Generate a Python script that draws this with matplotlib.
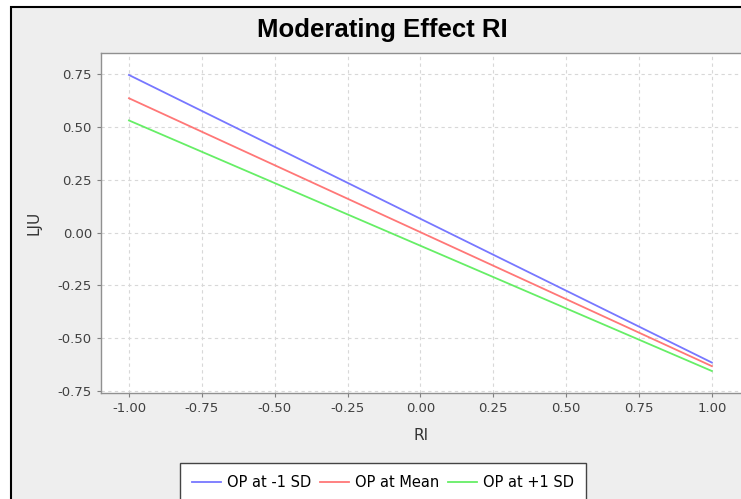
import matplotlib
matplotlib.use("Agg")
import matplotlib.pyplot as plt
from matplotlib.patches import Rectangle
import numpy as np

# -----------------------------------------
# Datos
# -----------------------------------------
ri = [-1.0, 1.0]
series = ["OP at -1 SD", "OP at Mean", "OP at +1 SD"]
lju_bajo = [0.745, -0.615]
lju_medio = [0.635, -0.632]
lju_alto = [0.530, -0.655]
colores = ["#7777ff", "#ff7777", "#66ee66"]

ticks_x = np.arange(-1.0, 1.01, 0.25)
ticks_y = np.arange(-0.75, 0.76, 0.25)

plt.rcParams["font.family"] = ["DejaVu Sans"]

W, H = 741, 499
fig = plt.figure(figsize=(W / 100, H / 100), dpi=100)
fig.patch.set_facecolor("white")

# fondo gris con borde negro
fondo = Rectangle((11 / W, -0.1), 1.2, (H - 7) / H + 0.1,
                  transform=fig.transFigure, facecolor="#eeeeee",
                  edgecolor="black", linewidth=1.5, zorder=-10)
fig.patches.append(fondo)

ax = fig.add_axes([101 / W, (H - 393) / H, (W - 101) / W, 340 / H])
ax.set_facecolor("white")

for y, nombre, c in zip([lju_bajo, lju_medio, lju_alto], series, colores):
    ax.plot(ri, y, color=c, linewidth=1.3, label=nombre)

ax.set_xlim(-1.096, 1.10)
ax.set_ylim(-0.759, 0.849)
ax.set_xticks(ticks_x)
ax.set_yticks(ticks_y)
ax.set_xticklabels([f"{t:.2f}" for t in ticks_x])
ax.set_yticklabels([f"{t:.2f}" for t in ticks_y])
ax.grid(True, color="#d8d8d8", linestyle=(0, (3, 3)), linewidth=0.8)
ax.tick_params(labelsize=9.5, length=3, color="#808080", labelcolor="#404040")
for s in ax.spines.values():
    s.set_color("#909090")
    s.set_linewidth(1.0)
ax.spines["right"].set_visible(False)

ax.set_xlabel("RI", fontsize=11, color="#333333", labelpad=9)
ax.set_ylabel("LJU", fontsize=11, color="#333333", labelpad=12)

fig.text(382 / W, 1 - 30 / H, "Moderating Effect RI", ha="center", va="center",
         fontsize=18.5, fontweight="bold", family="Liberation Sans")

leg = fig.legend(loc="upper center", bbox_to_anchor=(383 / W, 1 - 463 / H),
                 ncol=3, fontsize=10.5, frameon=True, fancybox=False,
                 framealpha=1.0, handlelength=2.0, handletextpad=0.4,
                 columnspacing=0.6, borderpad=0.8, borderaxespad=0)
leg.get_frame().set_facecolor("white")
leg.get_frame().set_edgecolor("#444444")
leg.get_frame().set_linewidth(1.0)

fig.savefig("out.png", dpi=100)
